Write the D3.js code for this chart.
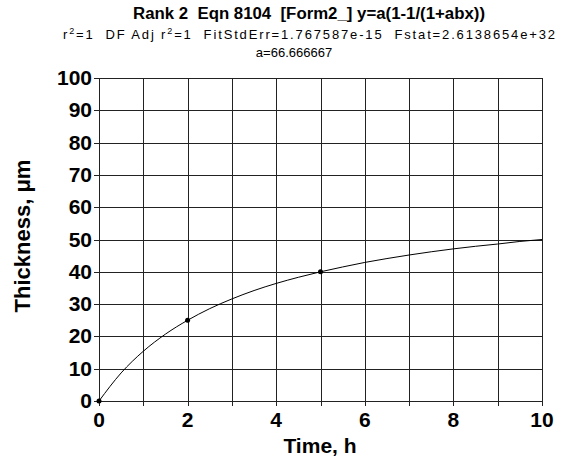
<!DOCTYPE html>
<html>
<head>
<meta charset="utf-8">
<script src="https://cdn.jsdelivr.net/npm/d3@7"></script>
<style>
  body { margin: 0; background: #fff; }
  text { font-family: "Liberation Sans", Arial, sans-serif; fill: #000; white-space: pre; }
</style>
</head>
<body>
<div id="chart"></div>
<script>
var svgWidth = 579;
var svgHeight = 456;

// fitted curve
var curveX = [0, 0.5, 1, 1.5, 2, 2.5, 3, 3.5, 4, 4.5, 5, 5.5, 6, 6.5, 7, 7.5, 8, 8.5, 9, 9.5, 10];
var curveY = [0, 8.7, 15.4, 20.7, 25, 28.6, 31.6, 34.2, 36.4, 38.3, 40, 41.5, 42.9, 44.1, 45.2, 46.2, 47.1, 47.9, 48.6, 49.4, 50];

// data points
var pointX = [0, 2, 5];
var pointY = [0, 25, 40];

var xTicks = [0, 1, 2, 3, 4, 5, 6, 7, 8, 9, 10];
var xLabels = [0, 2, 4, 6, 8, 10];
var yTicks = [0, 10, 20, 30, 40, 50, 60, 70, 80, 90, 100];

var titleText = "Rank 2  Eqn 8104  [Form2_] y=a(1-1/(1+abx))";
var paramText = "a=66.666667";

var svg = d3.select("#chart")
  .append("svg")
  .attr("width", svgWidth)
  .attr("height", svgHeight);

var x = d3.scaleLinear().domain([0, 10]).range([99, 542]);
var y = d3.scaleLinear().domain([0, 100]).range([401, 78]);

// grid
svg.append("g")
  .selectAll("line")
  .data(xTicks)
  .enter()
  .append("line")
  .attr("x1", d => Math.round(x(d)) + 0.5)
  .attr("x2", d => Math.round(x(d)) + 0.5)
  .attr("y1", y(100))
  .attr("y2", y(0) + 5)
  .attr("stroke", "#222")
  .attr("stroke-width", 1);

svg.append("g")
  .selectAll("line")
  .data(yTicks)
  .enter()
  .append("line")
  .attr("x1", x(0) - 5)
  .attr("x2", x(10))
  .attr("y1", d => Math.round(y(d)) + 0.5)
  .attr("y2", d => Math.round(y(d)) + 0.5)
  .attr("stroke", "#222")
  .attr("stroke-width", 1);

// tick labels
svg.append("g")
  .selectAll("text")
  .data(yTicks)
  .enter()
  .append("text")
  .attr("x", x(0) - 7)
  .attr("y", d => y(d) + 7)
  .attr("text-anchor", "end")
  .style("font-size", "21px")
  .style("font-weight", "bold")
  .text(d => d);

svg.append("g")
  .selectAll("text")
  .data(xLabels)
  .enter()
  .append("text")
  .attr("x", d => x(d))
  .attr("y", 427)
  .attr("text-anchor", "middle")
  .style("font-size", "21px")
  .style("font-weight", "bold")
  .text(d => d);

// curve
var line = d3.line()
  .x(d => x(d[0]))
  .y(d => y(d[1]))
  .curve(d3.curveMonotoneX);

svg.append("path")
  .datum(curveX.map((d, i) => [d, curveY[i]]))
  .attr("d", line)
  .attr("fill", "none")
  .attr("stroke", "#000")
  .attr("stroke-width", 1);

svg.append("g")
  .selectAll("circle")
  .data(pointX.map((d, i) => [d, pointY[i]]))
  .enter()
  .append("circle")
  .attr("cx", d => x(d[0]))
  .attr("cy", d => y(d[1]))
  .attr("r", 2.5)
  .attr("fill", "#000");

// titles
svg.append("text")
  .attr("x", 309)
  .attr("y", 19)
  .attr("text-anchor", "middle")
  .attr("textLength", 352)
  .attr("lengthAdjust", "spacingAndGlyphs")
  .style("font-size", "16px")
  .style("font-weight", "bold")
  .text(titleText);

var sub = svg.append("text")
  .attr("x", 309)
  .attr("y", 39)
  .attr("text-anchor", "middle")
  .attr("textLength", 492)
  .attr("lengthAdjust", "spacing")
  .style("font-size", "13px");
sub.append("tspan").text("r");
sub.append("tspan").attr("dy", -5).style("font-size", "9px").text("2");
sub.append("tspan").attr("dy", 5).text("=1  DF Adj r");
sub.append("tspan").attr("dy", -5).style("font-size", "9px").text("2");
sub.append("tspan").attr("dy", 5).text("=1  FitStdErr=1.767587e-15  Fstat=2.6138654e+32");

svg.append("text")
  .attr("x", 294)
  .attr("y", 57)
  .attr("text-anchor", "middle")
  .style("font-size", "13px")
  .text(paramText);

// axis labels
svg.append("text")
  .attr("transform", "translate(30, 236) rotate(-90)")
  .attr("text-anchor", "middle")
  .style("font-size", "22px")
  .style("font-weight", "bold")
  .text("Thickness, \u03bcm");

svg.append("text")
  .attr("x", 320)
  .attr("y", 453)
  .attr("text-anchor", "middle")
  .style("font-size", "21px")
  .style("font-weight", "bold")
  .text("Time, h");
</script>
</body>
</html>
